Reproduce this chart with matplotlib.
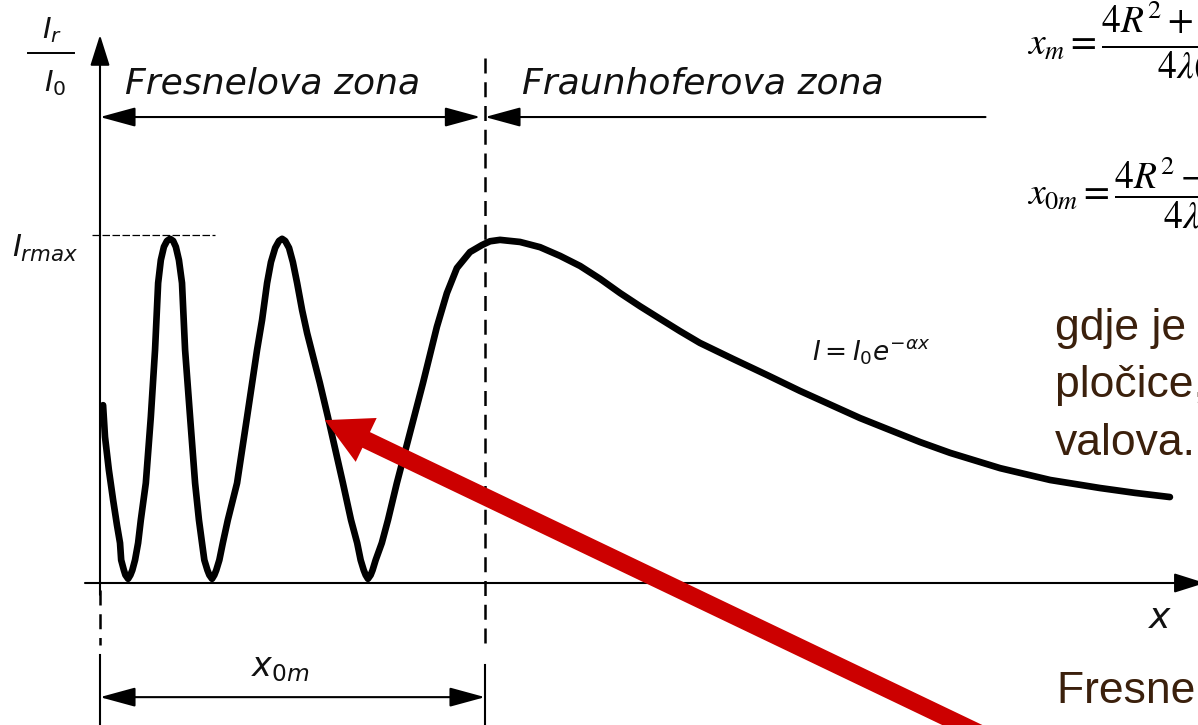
import matplotlib
matplotlib.use("Agg")
import matplotlib.pyplot as plt

plt.rcParams['mathtext.fontset'] = 'dejavusans'

# ---- intensity along the axis: x in units of x0m, intensity in units of Irmax ----
dist = [0.008, 0.013, 0.023, 0.034, 0.044, 0.052, 0.055, 0.062, 0.066, 0.073,
        0.079, 0.084, 0.091, 0.099, 0.106, 0.119, 0.132, 0.143, 0.151, 0.158,
        0.166, 0.174, 0.182, 0.190, 0.197, 0.205, 0.213, 0.221, 0.234, 0.247,
        0.257, 0.265, 0.271, 0.279, 0.284, 0.291, 0.297, 0.302, 0.310, 0.319,
        0.332, 0.356, 0.382, 0.408, 0.421, 0.434, 0.444, 0.455, 0.465, 0.473,
        0.481, 0.491, 0.501, 0.512, 0.525, 0.538, 0.571, 0.592, 0.631, 0.652,
        0.668, 0.677, 0.685, 0.690, 0.696, 0.703, 0.708, 0.716, 0.732, 0.748,
        0.771, 0.805, 0.839, 0.875, 0.901, 0.927, 0.961, 0.992, 1.013, 1.039,
        1.091, 1.143, 1.195, 1.247, 1.299, 1.351, 1.403, 1.455, 1.506, 1.558,
        1.644, 1.732, 1.818, 1.904, 1.974, 2.044, 2.130, 2.208, 2.338, 2.468,
        2.597, 2.688, 2.779]
intensity = [0.511, 0.420, 0.325, 0.239, 0.167, 0.115, 0.066, 0.037, 0.023, 0.012,
             0.023, 0.037, 0.066, 0.115, 0.181, 0.287, 0.477, 0.670, 0.862, 0.928,
             0.966, 0.983, 0.989, 0.983, 0.966, 0.928, 0.862, 0.670, 0.477, 0.287,
             0.181, 0.115, 0.066, 0.037, 0.023, 0.012, 0.023, 0.037, 0.066, 0.115,
             0.181, 0.287, 0.477, 0.670, 0.756, 0.862, 0.922, 0.963, 0.983, 0.989,
             0.983, 0.963, 0.922, 0.862, 0.784, 0.718, 0.575, 0.477, 0.287, 0.181,
             0.115, 0.066, 0.037, 0.023, 0.012, 0.023, 0.037, 0.066, 0.115, 0.181,
             0.287, 0.431, 0.575, 0.736, 0.833, 0.905, 0.951, 0.971, 0.982, 0.986,
             0.980, 0.965, 0.940, 0.911, 0.874, 0.833, 0.795, 0.759, 0.724, 0.690,
             0.644, 0.598, 0.552, 0.509, 0.474, 0.443, 0.405, 0.374, 0.330, 0.296,
             0.273, 0.259, 0.247]

X0M = 1.0        # end of the near (Fresnel) zone
I_RMAX = 1.0     # level of the maxima
ZONE_END = 2.30  # right end of the Fraunhofer zone bracket

zone_labels = ["Fresnelova zona", "Fraunhoferova zona"]
formula_xm = r"$x_m = \dfrac{4R^2 + \lambda^2(2m+1)^2}{4\lambda(2m+1)}$"
formula_x0m = r"$x_{0m} = \dfrac{4R^2 - \lambda^2}{4\lambda}$"
note_lines = ["gdje je R polumjer", "pločice, a λ valna duljina", "valova."]
note_bottom = "Fresnelova zona"

W, H = 1198, 725
fig = plt.figure(figsize=(W / 100, H / 100), dpi=100)
ax = fig.add_axes([0, 0, 1, 1])
ax.set_xlim(-100 / 385, 1098 / 385)
ax.set_ylim(-142 / 348, 583 / 348)
ax.axis('off')


def fig_pos(px, py):
    return px / W, 1 - py / H


def arrow(start, end, style, lw=1.5, color='black', z=3, ms=10):
    ax.annotate('', xy=end, xytext=start, annotation_clip=False, zorder=z,
                arrowprops=dict(arrowstyle=style, lw=lw, color=color,
                                shrinkA=0, shrinkB=0, mutation_scale=ms))


head = '-|>,head_length=2.2,head_width=0.6'
both = '<|-|>,head_length=2.2,head_width=0.6'

# axes
arrow((0, -0.034), (0, 1.575), '-|>,head_length=1.9,head_width=0.6')
arrow((-0.039, 0), (2.87, 0), '-|>,head_length=1.9,head_width=0.6')

# zone brackets
arrow((0, 1.339), (X0M - 0.012, 1.339), both)
arrow((ZONE_END, 1.339), (X0M, 1.339), head)

# zone boundary (dashed) and the x0m dimension
ax.plot([X0M, X0M], [1.51, -0.19], color='black', lw=1.8, dashes=(6, 3.5))
ax.plot([X0M, X0M], [-0.236, -0.45], color='black', lw=1.5)
ax.plot([0, 0], [-0.02, -0.178], color='black', lw=1.8, dashes=(6, 3.5))
ax.plot([0, 0], [-0.207, -0.45], color='black', lw=1.5)
arrow((0, -0.328), (X0M, -0.328), both)

# Irmax level
ax.plot([-0.021, 0.299], [I_RMAX, I_RMAX], color='black', lw=0.9, dashes=(6, 2))

# intensity curve
ax.plot(dist, intensity, color='black', lw=4.8, solid_capstyle='round',
        solid_joinstyle='round', zorder=4)

# diagram labels
lab = dict(family='DejaVu Sans', style='italic', color='#111111')
fig.text(*fig_pos(125, 84), zone_labels[0], fontsize=26, va='center', ha='left', **lab)
fig.text(*fig_pos(522, 84), zone_labels[1], fontsize=26, va='center', ha='left', **lab)
fig.text(*fig_pos(52, 30), r'$I_r$', fontsize=21, va='center', ha='center', **lab)
fig.text(*fig_pos(55, 83), r'$I_0$', fontsize=21, va='center', ha='center', **lab)
ax.plot([-72 / 385, -26 / 385], [530 / 348, 530 / 348], color='black', lw=1.4)
fig.text(*fig_pos(12, 257), r'$I_{rmax}$', fontsize=22, va='baseline', ha='left', **lab)
fig.text(*fig_pos(812, 352), r'$I=I_0e^{-\alpha x}$', fontsize=19, va='center', ha='left', **lab)
fig.text(*fig_pos(1160, 618), r'$x$', fontsize=26, va='center', ha='center', **lab)
fig.text(*fig_pos(280, 668), r'$x_{0m}$', fontsize=24, va='center', ha='center', **lab)

# formulas
fig.text(*fig_pos(1027, 43), formula_xm, fontsize=27, va='center', ha='left',
         math_fontfamily='stix')
fig.text(*fig_pos(1027, 193), formula_x0m, fontsize=27, va='center', ha='left',
         math_fontfamily='stix')

# explanation text
brown = '#3b200c'
for line, base in zip(note_lines, [340, 397, 455]):
    fig.text(*fig_pos(1055, base), line, fontsize=32, family='Liberation Sans',
             color=brown, va='baseline', ha='left')
fig.text(*fig_pos(1057, 703), note_bottom, fontsize=32, family='Liberation Sans',
         color=brown, va='baseline', ha='left')

# pointer
ax.annotate('', xy=(0.584, 0.468), xytext=(2.30, -0.44), annotation_clip=False,
            zorder=6,
            arrowprops=dict(arrowstyle='simple,head_length=3.3,head_width=3.5,tail_width=1.25',
                            mutation_scale=10, color='#cc0000', lw=0,
                            shrinkA=0, shrinkB=0))

fig.savefig('out.png', dpi=100, facecolor='white')
